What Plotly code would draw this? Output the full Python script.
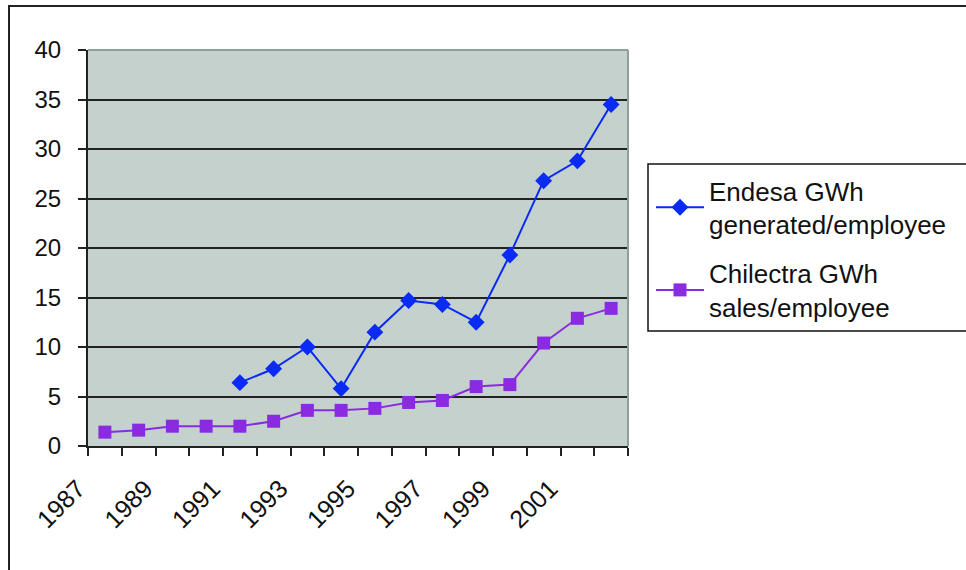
import plotly.graph_objects as go

years = list(range(1987, 2003))
endesa_years = list(range(1991, 2003))
endesa = [6.4, 7.8, 10.0, 5.8, 11.5, 14.7, 14.3, 12.5, 19.3, 26.8, 28.8, 34.5]
chilectra = [1.4, 1.6, 2.0, 2.0, 2.0, 2.5, 3.6, 3.6, 3.8, 4.4, 4.6, 6.0, 6.2, 10.4, 12.9, 13.9]
label_years = list(range(1987, 2002, 2))
y_ticks = list(range(0, 45, 5))

W, H = 966, 570
L, R, T, B = 88, 628, 50, 446  # plot area in pixels
PW, PH = R - L, B - T


def px(xw):
    return (xw - L) / PW


def py(yw):
    return (B - yw) / PH


fig = go.Figure()
fig.add_trace(go.Scatter(
    x=endesa_years, y=endesa, mode="lines+markers",
    name="Endesa GWh<br>generated/employee",
    legendgroup="a",
    line=dict(color="#0a2af5", width=2),
    marker=dict(symbol="diamond", size=13, color="#0a2af5"),
))
fig.add_trace(go.Scatter(
    x=years, y=chilectra, mode="lines+markers",
    name="Chilectra GWh<br>sales/employee",
    legendgroup="b",
    line=dict(color="#8a2be2", width=2),
    marker=dict(symbol="square", size=13, color="#8a2be2"),
))

# outer chart border
fig.add_shape(type="rect", xref="paper", yref="paper",
              x0=px(9), x1=px(1100), y0=py(700), y1=py(6),
              line=dict(color="#222222", width=2), fillcolor="rgba(0,0,0,0)", layer="below")
# legend box
fig.add_shape(type="rect", xref="paper", yref="paper",
              x0=px(648), x1=px(1000), y0=py(331), y1=py(164),
              line=dict(color="#111111", width=1.5), fillcolor="white", layer="below")
# plot-area light border (top/right)
fig.add_shape(type="line", xref="paper", yref="paper", x0=0, x1=1, y0=1, y1=1,
              line=dict(color="#8fa09a", width=2))
fig.add_shape(type="line", xref="paper", yref="paper", x0=1, x1=1, y0=0, y1=1,
              line=dict(color="#8fa09a", width=2))

fig.update_layout(
    width=W, height=H,
    margin=dict(l=L, r=W - R, t=T, b=H - B),
    paper_bgcolor="white",
    plot_bgcolor="#c5d1cc",
    font=dict(family="Liberation Sans, Arial, sans-serif", color="#111111"),
    showlegend=True,
    legend=dict(
        x=px(651), y=py(167),
        xanchor="left", yanchor="top",
        bgcolor="rgba(0,0,0,0)", borderwidth=0,
        font=dict(size=26, color="#111111"),
        itemwidth=48, tracegroupgap=12, traceorder="grouped",
    ),
    xaxis=dict(
        range=[1986.5, 2002.5],
        tickmode="array",
        tickvals=label_years,
        ticktext=[str(y) for y in label_years],
        tickangle=-45,
        ticklabelshift=-27,
        ticklabelstandoff=16,
        ticks="",
        tickfont=dict(size=25, color="#111111"),
        showgrid=False,
        showline=True, linecolor="#222222", linewidth=2,
        zeroline=False,
        minor=dict(ticks="outside", tick0=1986.5, dtick=1, ticklen=8,
                   tickcolor="#222222", tickwidth=1.5, showgrid=False),
    ),
    yaxis=dict(
        range=[0, 40],
        tickmode="array", tickvals=y_ticks,
        ticks="outside", ticklen=8, tickcolor="#222222", tickwidth=1.5,
        ticklabelstandoff=12,
        tickfont=dict(size=24, color="#111111"),
        showgrid=True, gridcolor="#222222", gridwidth=2,
        showline=True, linecolor="#222222", linewidth=2,
        zeroline=False,
    ),
)

fig.write_html("out.html", config={"displayModeBar": False},
               post_script="document.body.style.margin='0';")
